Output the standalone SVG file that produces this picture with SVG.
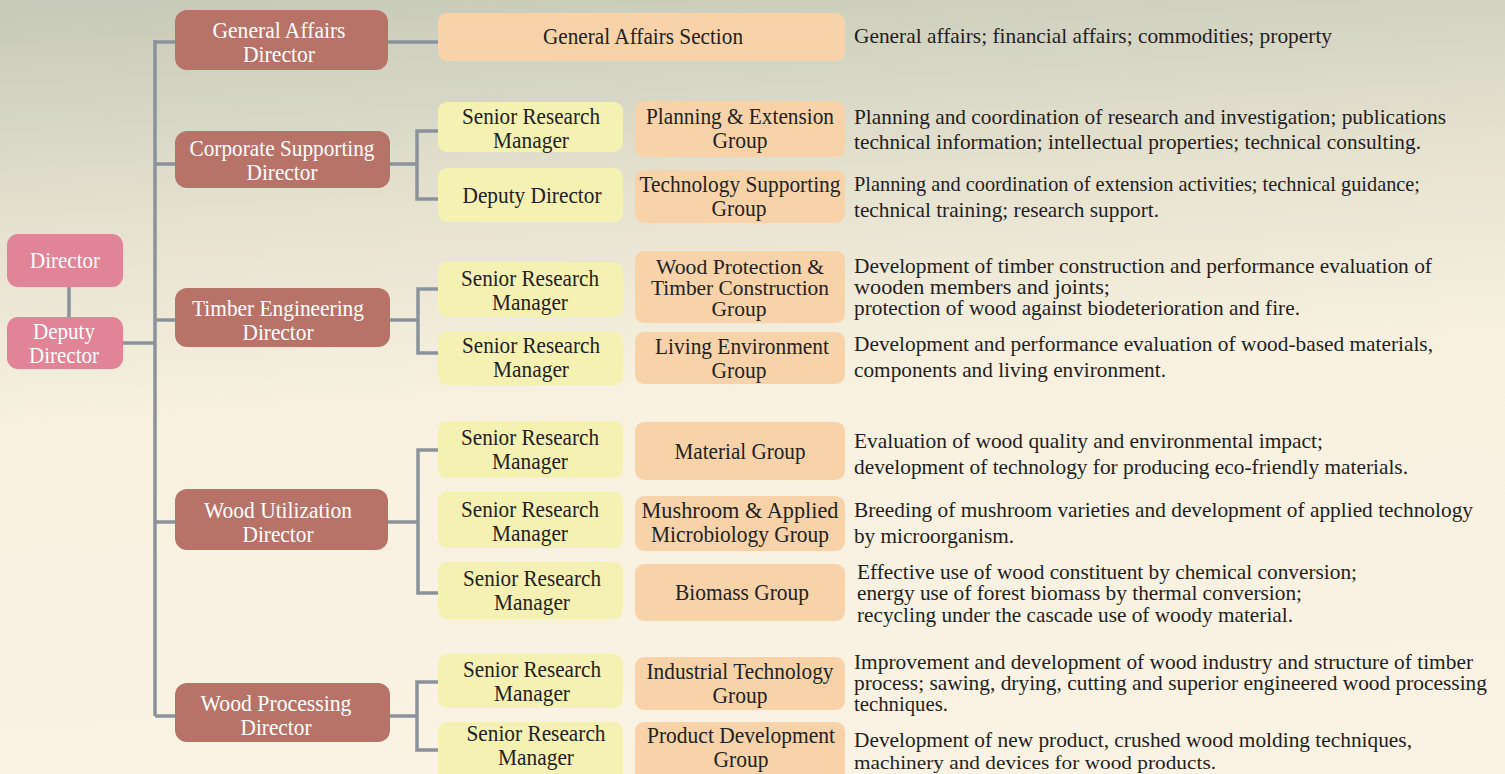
<svg xmlns="http://www.w3.org/2000/svg" width="1505" height="774" viewBox="0 0 1505 774">
<defs>
<linearGradient id="bg" x1="0" y1="0" x2="0.12" y2="1">
<stop offset="0" stop-color="#c6c9b7"/>
<stop offset="0.3" stop-color="#e6e2d0"/>
<stop offset="0.55" stop-color="#f8f1e0"/>
<stop offset="1" stop-color="#faf3e3"/>
</linearGradient>
<style>
.c{fill:none;stroke:#8a939b;stroke-width:3.5}
.top{fill:#e18498}
.dir{fill:#b87369}
.mgr{fill:#f5f1b3}
.grp{fill:#f8d3aa}
.w{font-family:'Liberation Serif',serif;font-size:24px;fill:#ffffff;text-anchor:middle}
.b{font-family:'Liberation Serif',serif;font-size:24px;fill:#222222;text-anchor:middle}
.s{font-size:20px}
.d{font-family:'Liberation Serif',serif;font-size:21px;fill:#1e1e1e}
.ds{font-size:19px}
</style>
</defs>
<rect x="0" y="0" width="1505" height="774" fill="url(#bg)"/>
<g id="connectors">
<path class="c" d="M69 287V317"/>
<path class="c" d="M123 343H155"/>
<path class="c" d="M155 40V716"/>
<path class="c" d="M155 42H175M155 164H175M155 320H175M155 522H175M155 716H175"/>
<path class="c" d="M388 42H438"/>
<path class="c" d="M390 164H417M438 131H417V199H438"/>
<path class="c" d="M390 320H418M438 289H418V353H438"/>
<path class="c" d="M388 522H418M438 450H418V593H438"/>
<path class="c" d="M390 716H417M438 682H417V750H438"/>
</g>
<g id="director">
<rect class="top" x="7" y="234" width="116" height="53" rx="11"/>
<text class="w" x="65" y="268" textLength="70" lengthAdjust="spacingAndGlyphs">Director</text>
</g>
<g id="deputy-director">
<rect class="top" x="7" y="317" width="116" height="52" rx="11"/>
<text class="w" x="64" y="339" textLength="62" lengthAdjust="spacingAndGlyphs">Deputy</text>
<text class="w" x="64" y="363" textLength="70" lengthAdjust="spacingAndGlyphs">Director</text>
</g>
<g id="general-affairs-director">
<rect class="dir" x="175" y="10" width="213" height="60" rx="12"/>
<text class="w" x="279" y="38" textLength="133" lengthAdjust="spacingAndGlyphs">General Affairs</text>
<text class="w" x="279" y="62" textLength="72" lengthAdjust="spacingAndGlyphs">Director</text>
</g>
<g id="corporate-supporting-director">
<rect class="dir" x="175" y="131" width="215" height="57" rx="12"/>
<text class="w" x="282" y="156" textLength="185" lengthAdjust="spacingAndGlyphs">Corporate Supporting</text>
<text class="w" x="282" y="180" textLength="71" lengthAdjust="spacingAndGlyphs">Director</text>
</g>
<g id="timber-engineering-director">
<rect class="dir" x="175" y="288" width="215" height="59" rx="12"/>
<text class="w" x="278" y="316" textLength="172" lengthAdjust="spacingAndGlyphs">Timber Engineering</text>
<text class="w" x="278" y="340" textLength="71" lengthAdjust="spacingAndGlyphs">Director</text>
</g>
<g id="wood-utilization-director">
<rect class="dir" x="175" y="489" width="213" height="61" rx="12"/>
<text class="w" x="278" y="518" textLength="148" lengthAdjust="spacingAndGlyphs">Wood Utilization</text>
<text class="w" x="278" y="542" textLength="71" lengthAdjust="spacingAndGlyphs">Director</text>
</g>
<g id="wood-processing-director">
<rect class="dir" x="175" y="683" width="215" height="59" rx="12"/>
<text class="w" x="276" y="711" textLength="151" lengthAdjust="spacingAndGlyphs">Wood Processing</text>
<text class="w" x="276" y="735" textLength="71" lengthAdjust="spacingAndGlyphs">Director</text>
</g>
<g id="general-affairs-section">
<rect class="grp" x="438" y="13" width="407" height="48" rx="9"/>
<text class="b" x="643" y="44" textLength="200" lengthAdjust="spacingAndGlyphs">General Affairs Section</text>
</g>
<g id="corp-srm">
<rect class="mgr" x="438" y="102" width="185" height="50" rx="9"/>
<text class="b" x="531" y="124" textLength="138" lengthAdjust="spacingAndGlyphs">Senior Research</text>
<text class="b" x="531" y="148" textLength="76" lengthAdjust="spacingAndGlyphs">Manager</text>
</g>
<g id="corp-deputy">
<rect class="mgr" x="438" y="168" width="185" height="54" rx="9"/>
<text class="b" x="532" y="203" textLength="139" lengthAdjust="spacingAndGlyphs">Deputy Director</text>
</g>
<g id="planning-extension">
<rect class="grp" x="635" y="101" width="210" height="56" rx="9"/>
<text class="b" x="740" y="124" textLength="188" lengthAdjust="spacingAndGlyphs">Planning &amp; Extension</text>
<text class="b" x="740" y="148" textLength="55" lengthAdjust="spacingAndGlyphs">Group</text>
</g>
<g id="technology-supporting">
<rect class="grp" x="635" y="170" width="210" height="53" rx="9"/>
<text class="b" x="740" y="192" textLength="201" lengthAdjust="spacingAndGlyphs">Technology Supporting</text>
<text class="b" x="739" y="216" textLength="55" lengthAdjust="spacingAndGlyphs">Group</text>
</g>
<g id="timber-srm1">
<rect class="mgr" x="438" y="262" width="185" height="55" rx="9"/>
<text class="b" x="530" y="286" textLength="138" lengthAdjust="spacingAndGlyphs">Senior Research</text>
<text class="b" x="530" y="310" textLength="76" lengthAdjust="spacingAndGlyphs">Manager</text>
</g>
<g id="timber-srm2">
<rect class="mgr" x="438" y="332" width="185" height="53" rx="9"/>
<text class="b" x="531" y="353" textLength="138" lengthAdjust="spacingAndGlyphs">Senior Research</text>
<text class="b" x="531" y="377" textLength="76" lengthAdjust="spacingAndGlyphs">Manager</text>
</g>
<g id="wood-protection">
<rect class="grp" x="635" y="251" width="210" height="72" rx="9"/>
<text class="b s" x="740" y="274" textLength="168" lengthAdjust="spacingAndGlyphs">Wood Protection &amp;</text>
<text class="b s" x="740" y="295" textLength="178" lengthAdjust="spacingAndGlyphs">Timber Construction</text>
<text class="b s" x="739" y="316" textLength="55" lengthAdjust="spacingAndGlyphs">Group</text>
</g>
<g id="living-environment">
<rect class="grp" x="635" y="332" width="210" height="52" rx="9"/>
<text class="b" x="742" y="354" textLength="174" lengthAdjust="spacingAndGlyphs">Living Environment</text>
<text class="b" x="739" y="378" textLength="55" lengthAdjust="spacingAndGlyphs">Group</text>
</g>
<g id="util-srm1">
<rect class="mgr" x="438" y="421" width="185" height="57" rx="9"/>
<text class="b" x="530" y="445" textLength="138" lengthAdjust="spacingAndGlyphs">Senior Research</text>
<text class="b" x="530" y="469" textLength="76" lengthAdjust="spacingAndGlyphs">Manager</text>
</g>
<g id="util-srm2">
<rect class="mgr" x="438" y="492" width="185" height="56" rx="9"/>
<text class="b" x="530" y="517" textLength="138" lengthAdjust="spacingAndGlyphs">Senior Research</text>
<text class="b" x="530" y="541" textLength="76" lengthAdjust="spacingAndGlyphs">Manager</text>
</g>
<g id="util-srm3">
<rect class="mgr" x="438" y="562" width="185" height="57" rx="9"/>
<text class="b" x="532" y="586" textLength="138" lengthAdjust="spacingAndGlyphs">Senior Research</text>
<text class="b" x="532" y="610" textLength="76" lengthAdjust="spacingAndGlyphs">Manager</text>
</g>
<g id="material-group">
<rect class="grp" x="635" y="422" width="210" height="58" rx="9"/>
<text class="b" x="740" y="459" textLength="131" lengthAdjust="spacingAndGlyphs">Material Group</text>
</g>
<g id="mushroom-group">
<rect class="grp" x="635" y="496" width="210" height="55" rx="9"/>
<text class="b" x="740" y="518" textLength="197" lengthAdjust="spacingAndGlyphs">Mushroom &amp; Applied</text>
<text class="b" x="740" y="542" textLength="178" lengthAdjust="spacingAndGlyphs">Microbiology Group</text>
</g>
<g id="biomass-group">
<rect class="grp" x="635" y="564" width="210" height="57" rx="9"/>
<text class="b" x="742" y="600" textLength="134" lengthAdjust="spacingAndGlyphs">Biomass Group</text>
</g>
<g id="proc-srm1">
<rect class="mgr" x="438" y="654" width="185" height="54" rx="9"/>
<text class="b" x="532" y="677" textLength="138" lengthAdjust="spacingAndGlyphs">Senior Research</text>
<text class="b" x="532" y="701" textLength="76" lengthAdjust="spacingAndGlyphs">Manager</text>
</g>
<g id="proc-srm2">
<rect class="mgr" x="438" y="722" width="185" height="60" rx="9"/>
<text class="b" x="536" y="741" textLength="139" lengthAdjust="spacingAndGlyphs">Senior Research</text>
<text class="b" x="536" y="765" textLength="76" lengthAdjust="spacingAndGlyphs">Manager</text>
</g>
<g id="industrial-technology">
<rect class="grp" x="635" y="657" width="210" height="53" rx="9"/>
<text class="b" x="740" y="679" textLength="187" lengthAdjust="spacingAndGlyphs">Industrial Technology</text>
<text class="b" x="740" y="703" textLength="55" lengthAdjust="spacingAndGlyphs">Group</text>
</g>
<g id="product-development">
<rect class="grp" x="635" y="722" width="210" height="60" rx="9"/>
<text class="b" x="741" y="743" textLength="188" lengthAdjust="spacingAndGlyphs">Product Development</text>
<text class="b" x="741" y="767" textLength="55" lengthAdjust="spacingAndGlyphs">Group</text>
</g>
<g id="descriptions">
<text class="d" x="854" y="43" textLength="478" lengthAdjust="spacingAndGlyphs">General affairs; financial affairs; commodities; property</text>
<text class="d" x="854" y="124" textLength="592" lengthAdjust="spacingAndGlyphs">Planning and coordination of research and investigation; publications</text>
<text class="d" x="854" y="149" textLength="567" lengthAdjust="spacingAndGlyphs">technical information; intellectual properties; technical consulting.</text>
<text class="d" x="854" y="191" textLength="566" lengthAdjust="spacingAndGlyphs">Planning and coordination of extension activities; technical guidance;</text>
<text class="d" x="854" y="217" textLength="305" lengthAdjust="spacingAndGlyphs">technical training; research support.</text>
<text class="d" x="854" y="273" textLength="578" lengthAdjust="spacingAndGlyphs">Development of timber construction and performance evaluation of</text>
<text class="d" x="854" y="294" textLength="256" lengthAdjust="spacingAndGlyphs">wooden members and joints;</text>
<text class="d" x="854" y="315" textLength="446" lengthAdjust="spacingAndGlyphs">protection of wood against biodeterioration and fire.</text>
<text class="d" x="854" y="351" textLength="579" lengthAdjust="spacingAndGlyphs">Development and performance evaluation of wood-based materials,</text>
<text class="d" x="854" y="377" textLength="312" lengthAdjust="spacingAndGlyphs">components and living environment.</text>
<text class="d" x="854" y="448" textLength="469" lengthAdjust="spacingAndGlyphs">Evaluation of wood quality and environmental impact;</text>
<text class="d" x="854" y="474" textLength="554" lengthAdjust="spacingAndGlyphs">development of technology for producing eco-friendly materials.</text>
<text class="d" x="854" y="517" textLength="619" lengthAdjust="spacingAndGlyphs">Breeding of mushroom varieties and development of applied technology</text>
<text class="d" x="854" y="543" textLength="160" lengthAdjust="spacingAndGlyphs">by microorganism.</text>
<text class="d" x="857" y="579" textLength="500" lengthAdjust="spacingAndGlyphs">Effective use of wood constituent by chemical conversion;</text>
<text class="d" x="857" y="600" textLength="445" lengthAdjust="spacingAndGlyphs">energy use of forest biomass by thermal conversion;</text>
<text class="d" x="857" y="622" textLength="436" lengthAdjust="spacingAndGlyphs">recycling under the cascade use of woody material.</text>
<text class="d" x="854" y="669" textLength="619" lengthAdjust="spacingAndGlyphs">Improvement and development of wood industry and structure of timber</text>
<text class="d" x="854" y="690" textLength="633" lengthAdjust="spacingAndGlyphs">process; sawing, drying, cutting and superior engineered wood processing</text>
<text class="d" x="854" y="711" textLength="94" lengthAdjust="spacingAndGlyphs">techniques.</text>
<text class="d" x="854" y="747" textLength="558" lengthAdjust="spacingAndGlyphs">Development of new product, crushed wood molding techniques,</text>
<text class="d ds" x="854" y="769" textLength="362" lengthAdjust="spacingAndGlyphs">machinery and devices for wood products.</text>
</g>
</svg>
